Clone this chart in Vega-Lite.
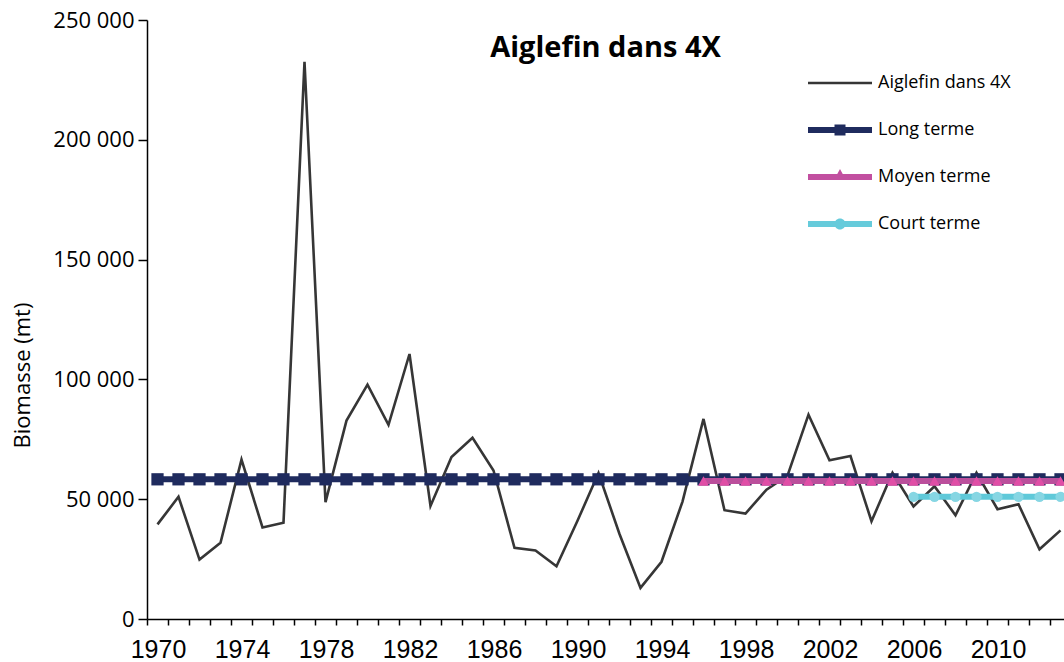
{
  "$schema": "https://vega.github.io/schema/vega-lite/v6.json",
  "width": 917,
  "height": 599,
  "autosize": {"type": "none"},
  "padding": {"left": 147, "top": 20, "right": 0, "bottom": 43},
  "background": "white",
  "config": {
    "view": {"stroke": null},
    "font": "Open Sans",
    "axis": {"domainColor": "black", "tickColor": "black", "labelColor": "black", "titleColor": "black", "grid": false}
  },
  "title": {
    "text": "Aiglefin dans 4X",
    "font": "Open Sans",
    "fontWeight": "bold",
    "fontSize": 29,
    "color": "black",
    "anchor": "middle",
    "baseline": "alphabetic",
    "offset": -77
  },
  "data": {
    "values": [
      {"annee": 1970, "serie": "Aiglefin dans 4X", "biomasse": 39500},
      {"annee": 1971, "serie": "Aiglefin dans 4X", "biomasse": 51000},
      {"annee": 1972, "serie": "Aiglefin dans 4X", "biomasse": 24800},
      {"annee": 1973, "serie": "Aiglefin dans 4X", "biomasse": 31800},
      {"annee": 1974, "serie": "Aiglefin dans 4X", "biomasse": 66500},
      {"annee": 1975, "serie": "Aiglefin dans 4X", "biomasse": 38200},
      {"annee": 1976, "serie": "Aiglefin dans 4X", "biomasse": 40200},
      {"annee": 1977, "serie": "Aiglefin dans 4X", "biomasse": 232500},
      {"annee": 1978, "serie": "Aiglefin dans 4X", "biomasse": 48800},
      {"annee": 1979, "serie": "Aiglefin dans 4X", "biomasse": 82800},
      {"annee": 1980, "serie": "Aiglefin dans 4X", "biomasse": 97800},
      {"annee": 1981, "serie": "Aiglefin dans 4X", "biomasse": 81000},
      {"annee": 1982, "serie": "Aiglefin dans 4X", "biomasse": 110600},
      {"annee": 1983, "serie": "Aiglefin dans 4X", "biomasse": 47200},
      {"annee": 1984, "serie": "Aiglefin dans 4X", "biomasse": 67600},
      {"annee": 1985, "serie": "Aiglefin dans 4X", "biomasse": 75600},
      {"annee": 1986, "serie": "Aiglefin dans 4X", "biomasse": 62000},
      {"annee": 1987, "serie": "Aiglefin dans 4X", "biomasse": 29700},
      {"annee": 1988, "serie": "Aiglefin dans 4X", "biomasse": 28600},
      {"annee": 1989, "serie": "Aiglefin dans 4X", "biomasse": 22000},
      {"annee": 1990, "serie": "Aiglefin dans 4X", "biomasse": 41000},
      {"annee": 1991, "serie": "Aiglefin dans 4X", "biomasse": 60900},
      {"annee": 1992, "serie": "Aiglefin dans 4X", "biomasse": 35500},
      {"annee": 1993, "serie": "Aiglefin dans 4X", "biomasse": 13000},
      {"annee": 1994, "serie": "Aiglefin dans 4X", "biomasse": 23900},
      {"annee": 1995, "serie": "Aiglefin dans 4X", "biomasse": 49000},
      {"annee": 1996, "serie": "Aiglefin dans 4X", "biomasse": 83500},
      {"annee": 1997, "serie": "Aiglefin dans 4X", "biomasse": 45400},
      {"annee": 1998, "serie": "Aiglefin dans 4X", "biomasse": 44000},
      {"annee": 1999, "serie": "Aiglefin dans 4X", "biomasse": 54000},
      {"annee": 2000, "serie": "Aiglefin dans 4X", "biomasse": 59800},
      {"annee": 2001, "serie": "Aiglefin dans 4X", "biomasse": 85300},
      {"annee": 2002, "serie": "Aiglefin dans 4X", "biomasse": 66200},
      {"annee": 2003, "serie": "Aiglefin dans 4X", "biomasse": 68000},
      {"annee": 2004, "serie": "Aiglefin dans 4X", "biomasse": 40800},
      {"annee": 2005, "serie": "Aiglefin dans 4X", "biomasse": 61000},
      {"annee": 2006, "serie": "Aiglefin dans 4X", "biomasse": 47000},
      {"annee": 2007, "serie": "Aiglefin dans 4X", "biomasse": 55400},
      {"annee": 2008, "serie": "Aiglefin dans 4X", "biomasse": 43300},
      {"annee": 2009, "serie": "Aiglefin dans 4X", "biomasse": 61000},
      {"annee": 2010, "serie": "Aiglefin dans 4X", "biomasse": 45800},
      {"annee": 2011, "serie": "Aiglefin dans 4X", "biomasse": 47900},
      {"annee": 2012, "serie": "Aiglefin dans 4X", "biomasse": 29100},
      {"annee": 2013, "serie": "Aiglefin dans 4X", "biomasse": 37000},
      {"annee": 1970, "serie": "Long terme", "biomasse": 58300},
      {"annee": 1971, "serie": "Long terme", "biomasse": 58300},
      {"annee": 1972, "serie": "Long terme", "biomasse": 58300},
      {"annee": 1973, "serie": "Long terme", "biomasse": 58300},
      {"annee": 1974, "serie": "Long terme", "biomasse": 58300},
      {"annee": 1975, "serie": "Long terme", "biomasse": 58300},
      {"annee": 1976, "serie": "Long terme", "biomasse": 58300},
      {"annee": 1977, "serie": "Long terme", "biomasse": 58300},
      {"annee": 1978, "serie": "Long terme", "biomasse": 58300},
      {"annee": 1979, "serie": "Long terme", "biomasse": 58300},
      {"annee": 1980, "serie": "Long terme", "biomasse": 58300},
      {"annee": 1981, "serie": "Long terme", "biomasse": 58300},
      {"annee": 1982, "serie": "Long terme", "biomasse": 58300},
      {"annee": 1983, "serie": "Long terme", "biomasse": 58300},
      {"annee": 1984, "serie": "Long terme", "biomasse": 58300},
      {"annee": 1985, "serie": "Long terme", "biomasse": 58300},
      {"annee": 1986, "serie": "Long terme", "biomasse": 58300},
      {"annee": 1987, "serie": "Long terme", "biomasse": 58300},
      {"annee": 1988, "serie": "Long terme", "biomasse": 58300},
      {"annee": 1989, "serie": "Long terme", "biomasse": 58300},
      {"annee": 1990, "serie": "Long terme", "biomasse": 58300},
      {"annee": 1991, "serie": "Long terme", "biomasse": 58300},
      {"annee": 1992, "serie": "Long terme", "biomasse": 58300},
      {"annee": 1993, "serie": "Long terme", "biomasse": 58300},
      {"annee": 1994, "serie": "Long terme", "biomasse": 58300},
      {"annee": 1995, "serie": "Long terme", "biomasse": 58300},
      {"annee": 1996, "serie": "Long terme", "biomasse": 58300},
      {"annee": 1997, "serie": "Long terme", "biomasse": 58300},
      {"annee": 1998, "serie": "Long terme", "biomasse": 58300},
      {"annee": 1999, "serie": "Long terme", "biomasse": 58300},
      {"annee": 2000, "serie": "Long terme", "biomasse": 58300},
      {"annee": 2001, "serie": "Long terme", "biomasse": 58300},
      {"annee": 2002, "serie": "Long terme", "biomasse": 58300},
      {"annee": 2003, "serie": "Long terme", "biomasse": 58300},
      {"annee": 2004, "serie": "Long terme", "biomasse": 58300},
      {"annee": 2005, "serie": "Long terme", "biomasse": 58300},
      {"annee": 2006, "serie": "Long terme", "biomasse": 58300},
      {"annee": 2007, "serie": "Long terme", "biomasse": 58300},
      {"annee": 2008, "serie": "Long terme", "biomasse": 58300},
      {"annee": 2009, "serie": "Long terme", "biomasse": 58300},
      {"annee": 2010, "serie": "Long terme", "biomasse": 58300},
      {"annee": 2011, "serie": "Long terme", "biomasse": 58300},
      {"annee": 2012, "serie": "Long terme", "biomasse": 58300},
      {"annee": 2013, "serie": "Long terme", "biomasse": 58300},
      {"annee": 1996, "serie": "Moyen terme", "biomasse": 57600},
      {"annee": 1997, "serie": "Moyen terme", "biomasse": 57600},
      {"annee": 1998, "serie": "Moyen terme", "biomasse": 57600},
      {"annee": 1999, "serie": "Moyen terme", "biomasse": 57600},
      {"annee": 2000, "serie": "Moyen terme", "biomasse": 57600},
      {"annee": 2001, "serie": "Moyen terme", "biomasse": 57600},
      {"annee": 2002, "serie": "Moyen terme", "biomasse": 57600},
      {"annee": 2003, "serie": "Moyen terme", "biomasse": 57600},
      {"annee": 2004, "serie": "Moyen terme", "biomasse": 57600},
      {"annee": 2005, "serie": "Moyen terme", "biomasse": 57600},
      {"annee": 2006, "serie": "Moyen terme", "biomasse": 57600},
      {"annee": 2007, "serie": "Moyen terme", "biomasse": 57600},
      {"annee": 2008, "serie": "Moyen terme", "biomasse": 57600},
      {"annee": 2009, "serie": "Moyen terme", "biomasse": 57600},
      {"annee": 2010, "serie": "Moyen terme", "biomasse": 57600},
      {"annee": 2011, "serie": "Moyen terme", "biomasse": 57600},
      {"annee": 2012, "serie": "Moyen terme", "biomasse": 57600},
      {"annee": 2013, "serie": "Moyen terme", "biomasse": 57600},
      {"annee": 2006, "serie": "Court terme", "biomasse": 51000},
      {"annee": 2007, "serie": "Court terme", "biomasse": 51000},
      {"annee": 2008, "serie": "Court terme", "biomasse": 51000},
      {"annee": 2009, "serie": "Court terme", "biomasse": 51000},
      {"annee": 2010, "serie": "Court terme", "biomasse": 51000},
      {"annee": 2011, "serie": "Court terme", "biomasse": 51000},
      {"annee": 2012, "serie": "Court terme", "biomasse": 51000},
      {"annee": 2013, "serie": "Court terme", "biomasse": 51000}
    ]
  },
  "encoding": {
    "x": {
      "field": "annee",
      "type": "quantitative",
      "scale": {"domain": [1969.5, 2013.167], "nice": false, "zero": false},
      "axis": {
        "title": null,
        "values": [1969.5, 1970.5, 1971.5, 1972.5, 1973.5, 1974.5, 1975.5, 1976.5, 1977.5, 1978.5, 1979.5, 1980.5, 1981.5, 1982.5, 1983.5, 1984.5, 1985.5, 1986.5, 1987.5, 1988.5, 1989.5, 1990.5, 1991.5, 1992.5, 1993.5, 1994.5, 1995.5, 1996.5, 1997.5, 1998.5, 1999.5, 2000.5, 2001.5, 2002.5, 2003.5, 2004.5, 2005.5, 2006.5, 2007.5, 2008.5, 2009.5, 2010.5, 2011.5, 2012.5],
        "labelExpr": "(datum.value + 0.5) % 4 === 2 ? '' + (datum.value + 0.5) : ''",
        "labelOffset": 11,
        "labelFont": "Liberation Sans",
        "labelFontSize": 25,
        "labelPadding": 12,
        "labelOverlap": false,
        "labelFlush": false,
        "labelBound": false,
        "tickSize": 6,
        "tickWidth": 1.5,
        "domainWidth": 1.5
      }
    },
    "y": {
      "field": "biomasse",
      "type": "quantitative",
      "scale": {"domain": [0, 250000], "nice": false},
      "axis": {
        "title": "Biomasse (mt)",
        "titleFont": "Open Sans",
        "titleFontSize": 22,
        "titleFontWeight": "normal",
        "titlePadding": 18,
        "titleY": 355,
        "values": [0, 50000, 100000, 150000, 200000, 250000],
        "labelExpr": "replace(format(datum.value, ','), ',', ' ')",
        "labelFont": "Open Sans",
        "labelFontSize": 22,
        "labelPadding": 4,
        "tickSize": 9,
        "tickWidth": 1.5,
        "domainWidth": 1.5
      }
    }
  },
  "layer": [
    {
      "transform": [{"filter": "datum.serie === 'Aiglefin dans 4X'"}],
      "mark": {"type": "line", "strokeWidth": 2.6},
      "encoding": {
        "color": {
          "field": "serie",
          "type": "nominal",
          "scale": {
            "domain": ["Aiglefin dans 4X", "Long terme", "Moyen terme", "Court terme"],
            "range": ["#363636", "#1f2b5e", "#bb4f9c", "#5fc9d9"]
          },
          "legend": {
            "orient": "none",
            "legendX": 683,
            "legendY": 53,
            "title": null,
            "padding": 0,
            "symbolSize": 400,
            "symbolType": "square",
            "labelOffset": 28,
            "labelFont": "Open Sans",
            "labelFontSize": 18,
            "labelColor": "black",
            "rowPadding": 28,
            "encode": {
              "symbols": {
                "update": {
                  "shape": {"signal": "datum.value === 'Aiglefin dans 4X' ? 'M-3.2,-0.13H3.2V0.13H-3.2Z' : datum.value === 'Long terme' ? 'M-3.2,-0.3H3.2V0.3H-3.2Z M-0.55,-0.55H0.55V0.55H-0.55Z' : datum.value === 'Moyen terme' ? 'M-3.2,-0.3H3.2V0.3H-3.2Z M0,-0.8L0.6,0.3H-0.6Z' : 'M-3.2,-0.3H3.2V0.3H-3.2Z M-0.55,0A0.55,0.55 0 1,1 0.55,0A0.55,0.55 0 1,1 -0.55,0Z'"},
                  "fill": {"signal": "datum.value === 'Aiglefin dans 4X' ? '#363636' : datum.value === 'Long terme' ? '#1f2b5e' : datum.value === 'Moyen terme' ? '#c24fa0' : '#66cbdb'"},
                  "stroke": {"value": "transparent"},
                  "strokeWidth": {"value": 0},
                  "opacity": {"value": 1}
                }
              }
            }
          }
        }
      }
    },
    {
      "transform": [{"filter": "datum.serie === 'Long terme'"}],
      "mark": {"type": "line", "strokeWidth": 6},
      "encoding": {"color": {"field": "serie", "type": "nominal"}}
    },
    {
      "transform": [{"filter": "datum.serie === 'Long terme'"}],
      "mark": {"type": "point", "shape": "square", "filled": true, "color": "#1f2b5e", "size": 150, "opacity": 1}
    },
    {
      "transform": [{"filter": "datum.serie === 'Moyen terme'"}],
      "mark": {"type": "line", "strokeWidth": 6},
      "encoding": {"color": {"field": "serie", "type": "nominal"}}
    },
    {
      "transform": [{"filter": "datum.serie === 'Moyen terme'"}],
      "mark": {"type": "point", "shape": "triangle-up", "filled": true, "color": "#e04ea6", "size": 120, "opacity": 1}
    },
    {
      "transform": [{"filter": "datum.serie === 'Court terme'"}],
      "mark": {"type": "line", "strokeWidth": 6},
      "encoding": {"color": {"field": "serie", "type": "nominal"}}
    },
    {
      "transform": [{"filter": "datum.serie === 'Court terme'"}],
      "mark": {"type": "point", "shape": "circle", "filled": true, "color": "#86d6e3", "size": 105, "opacity": 1}
    }
  ]
}
